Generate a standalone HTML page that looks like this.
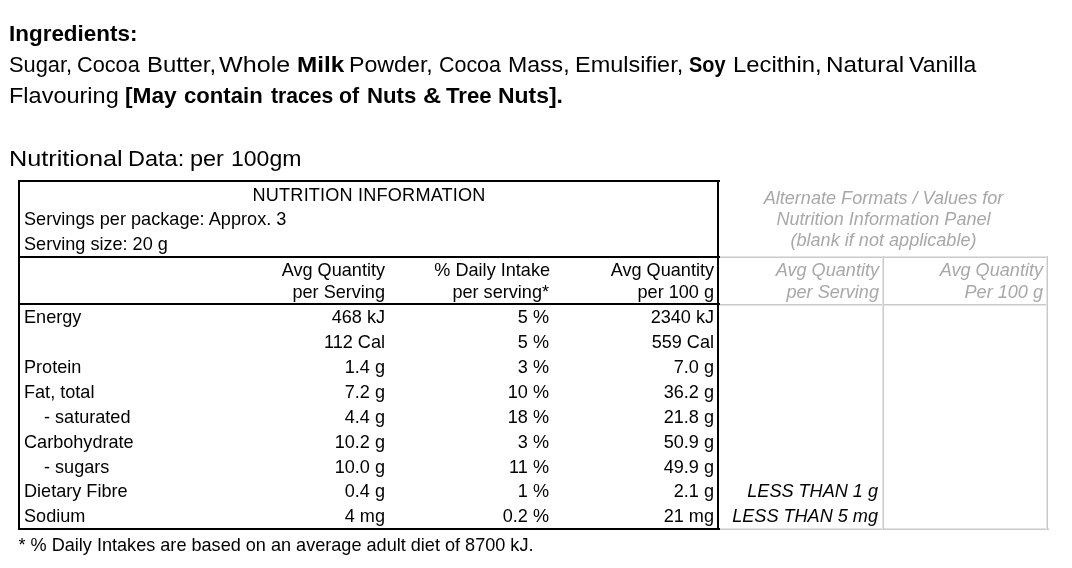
<!DOCTYPE html>
<html>
<head>
<meta charset="utf-8">
<style>
html,body{margin:0;padding:0;background:#fff;}
body{width:1072px;height:568px;position:relative;overflow:hidden;font-family:"Liberation Sans",sans-serif;color:#000;}
.top{position:absolute;left:0;width:1072px;height:26px;font-size:22px;line-height:26px;color:#000;will-change:transform;}
.top span{position:absolute;top:0;white-space:pre;transform-origin:0 0;}
.L1{top:20.8px}.L2{top:51.8px}.L3{top:83.1px}.L5{top:145.5px}
.t{position:absolute;font-size:18.1px;line-height:20px;white-space:nowrap;color:#000;transform:translateZ(0);}
.r{text-align:right;}
.g{color:#a8a8a8;font-style:italic;}
.ln{position:absolute;background:#000;}
.gl{position:absolute;background:#cacaca;}
.gl2{position:absolute;background:#e4e4e4;}
</style>
</head>
<body>
<div class="top L1"><span style="left:8.9px;transform:scaleX(1.020)"><b>Ingredients:</b></span></div>
<div class="top L2"><span style="left:8.7px;transform:scaleX(0.992)">Sugar,</span><span style="left:77.3px;transform:scaleX(0.986)">Cocoa</span><span style="left:146.9px;transform:scaleX(1.086)">Butter,</span><span style="left:219.4px;transform:scaleX(1.142)">Whole</span><span style="left:296.5px;transform:scaleX(1.104)"><b>Milk</b></span><span style="left:349.4px;transform:scaleX(1.054)">Powder,</span><span style="left:439.0px;transform:scaleX(0.974)">Cocoa</span><span style="left:508.1px;transform:scaleX(1.049)">Mass,</span><span style="left:575.2px;transform:scaleX(1.066)">Emulsifier,</span><span style="left:688.8px;transform:scaleX(0.904)"><b>Soy</b></span><span style="left:732.6px;transform:scaleX(1.082)">Lecithin,</span><span style="left:825.7px;transform:scaleX(1.102)">Natural</span><span style="left:909.3px;transform:scaleX(1.045)">Vanilla</span></div>
<div class="top L3"><span style="left:8.6px;transform:scaleX(1.068)">Flavouring</span><span style="left:124.9px;transform:scaleX(1.032)"><b>[May</b></span><span style="left:184.0px;transform:scaleX(1.006)"><b>contain</b></span><span style="left:271.0px;transform:scaleX(0.961)"><b>traces</b></span><span style="left:339.0px;transform:scaleX(0.968)"><b>of</b></span><span style="left:366.7px;transform:scaleX(1.009)"><b>Nuts</b></span><span style="left:422.5px;transform:scaleX(1.142)"><b>&amp;</b></span><span style="left:446.4px;transform:scaleX(1.008)"><b>Tree</b></span><span style="left:498.0px;transform:scaleX(1.041)"><b>Nuts].</b></span></div>
<div class="top L5"><span style="left:8.5px;transform:scaleX(1.148)">Nutritional</span><span style="left:127.9px;transform:scaleX(1.068)">Data:</span><span style="left:190.2px;transform:scaleX(1.066)">per</span><span style="left:230.9px;transform:scaleX(1.047)">100gm</span></div>

<!-- gray alt table lines -->
<div class="gl" style="left:719px;top:257px;width:329px;height:1px"></div>
<div class="gl2" style="left:719px;top:256px;width:329px;height:1px"></div>
<div class="gl" style="left:719px;top:304px;width:329px;height:1px"></div>
<div class="gl2" style="left:719px;top:305px;width:329px;height:1px"></div>
<div class="gl" style="left:719px;top:529px;width:330px;height:1px"></div>
<div class="gl2" style="left:719px;top:528px;width:330px;height:1px"></div>
<div class="gl" style="left:883px;top:256px;width:1px;height:274px"></div>
<div class="gl2" style="left:882px;top:256px;width:1px;height:274px"></div>
<div class="gl" style="left:1047px;top:256px;width:1px;height:274px"></div>
<div class="gl2" style="left:1046px;top:256px;width:1px;height:274px"></div>

<!-- main table borders -->
<div class="ln" style="left:18px;top:180px;width:702px;height:2px"></div>
<div class="ln" style="left:18px;top:528px;width:702px;height:2px"></div>
<div class="ln" style="left:18px;top:180px;width:2px;height:350px"></div>
<div class="ln" style="left:717px;top:180px;width:2px;height:350px"></div>
<div class="ln" style="left:18px;top:256px;width:702px;height:2px"></div>
<div class="ln" style="left:18px;top:303px;width:702px;height:2px"></div>

<!-- main table text -->
<div class="t" style="left:18px;width:702px;text-align:center;top:185px;letter-spacing:0.2px;text-indent:0.2px">NUTRITION INFORMATION</div>
<div class="t" style="left:24px;top:209px;letter-spacing:0.03px">Servings per package: Approx. 3</div>
<div class="t" style="left:24px;top:234px">Serving size: 20 g</div>

<div class="t r" style="left:200px;width:185px;top:260px">Avg Quantity</div>
<div class="t r" style="left:200px;width:185px;top:281.7px">per Serving</div>
<div class="t r" style="left:401px;width:149px;top:260px">% Daily Intake</div>
<div class="t r" style="left:400px;width:149px;top:281.7px">per serving*</div>
<div class="t r" style="left:560px;width:154px;top:260px">Avg Quantity</div>
<div class="t r" style="left:560px;width:154px;top:281.7px">per 100 g</div>

<div class="t" style="left:24px;top:307px">Energy</div>
<div class="t" style="left:24px;top:357px">Protein</div>
<div class="t" style="left:24px;top:381.6px">Fat, total</div>
<div class="t" style="left:44px;top:406.6px">- saturated</div>
<div class="t" style="left:24px;top:431.6px">Carbohydrate</div>
<div class="t" style="left:44px;top:456.6px">- sugars</div>
<div class="t" style="left:24px;top:481px">Dietary Fibre</div>
<div class="t" style="left:24px;top:506px">Sodium</div>

<div class="t r" style="left:200px;width:185px;top:307px">468 kJ</div>
<div class="t r" style="left:200px;width:185px;top:332px">112 Cal</div>
<div class="t r" style="left:200px;width:185px;top:357px">1.4 g</div>
<div class="t r" style="left:200px;width:185px;top:381.6px">7.2 g</div>
<div class="t r" style="left:200px;width:185px;top:406.6px">4.4 g</div>
<div class="t r" style="left:200px;width:185px;top:431.6px">10.2 g</div>
<div class="t r" style="left:200px;width:185px;top:456.6px">10.0 g</div>
<div class="t r" style="left:200px;width:185px;top:481px">0.4 g</div>
<div class="t r" style="left:200px;width:185px;top:506px">4 mg</div>

<div class="t r" style="left:400px;width:149px;top:307px">5 %</div>
<div class="t r" style="left:400px;width:149px;top:332px">5 %</div>
<div class="t r" style="left:400px;width:149px;top:357px">3 %</div>
<div class="t r" style="left:400px;width:149px;top:381.6px">10 %</div>
<div class="t r" style="left:400px;width:149px;top:406.6px">18 %</div>
<div class="t r" style="left:400px;width:149px;top:431.6px">3 %</div>
<div class="t r" style="left:400px;width:149px;top:456.6px">11 %</div>
<div class="t r" style="left:400px;width:149px;top:481px">1 %</div>
<div class="t r" style="left:400px;width:149px;top:506px">0.2 %</div>

<div class="t r" style="left:560px;width:154px;top:307px">2340 kJ</div>
<div class="t r" style="left:560px;width:154px;top:332px">559 Cal</div>
<div class="t r" style="left:560px;width:154px;top:357px">7.0 g</div>
<div class="t r" style="left:560px;width:154px;top:381.6px">36.2 g</div>
<div class="t r" style="left:560px;width:154px;top:406.6px">21.8 g</div>
<div class="t r" style="left:560px;width:154px;top:431.6px">50.9 g</div>
<div class="t r" style="left:560px;width:154px;top:456.6px">49.9 g</div>
<div class="t r" style="left:560px;width:154px;top:481px">2.1 g</div>
<div class="t r" style="left:560px;width:154px;top:506px">21 mg</div>

<!-- alt table text -->
<div class="t g" style="left:720px;width:327px;text-align:center;top:188px">Alternate Formats / Values for</div>
<div class="t g" style="left:720px;width:327px;text-align:center;top:209px">Nutrition Information Panel</div>
<div class="t g" style="left:720px;width:327px;text-align:center;top:230px">(blank if not applicable)</div>
<div class="t g r" style="left:720px;width:159px;top:260px">Avg Quantity</div>
<div class="t g r" style="left:720px;width:159px;top:281.7px">per Serving</div>
<div class="t g r" style="left:884px;width:159px;top:260px">Avg Quantity</div>
<div class="t g r" style="left:884px;width:159px;top:281.7px">Per 100 g</div>
<div class="t r" style="left:720px;width:158px;top:481px;font-style:italic">LESS THAN 1 g</div>
<div class="t r" style="left:720px;width:158px;top:506px;font-style:italic">LESS THAN 5 mg</div>

<div class="t" style="left:18.5px;top:535px">* % Daily Intakes are based on an average adult diet of 8700 kJ.</div>
</body>
</html>
